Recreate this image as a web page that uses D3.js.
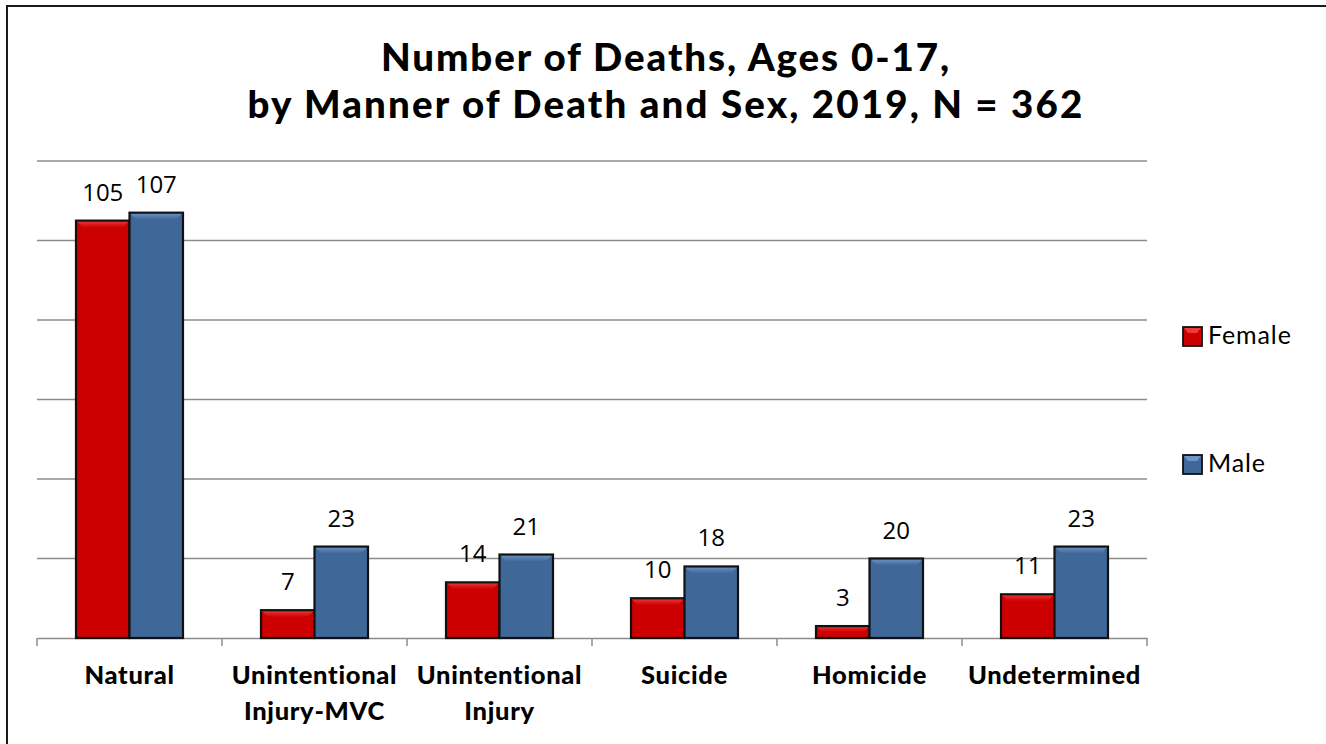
<!DOCTYPE html>
<html><head><meta charset="utf-8">
<script src="https://cdn.jsdelivr.net/npm/d3@7"></script>
<style>body{margin:0;background:#fff;overflow:hidden;} svg{display:block;}</style>
</head><body>
<svg id="c" width="1326" height="744"></svg>
<script>
const categories = ["Natural", "Unintentional\nInjury-MVC", "Unintentional\nInjury", "Suicide", "Homicide", "Undetermined"];
const seriesNames = ["Female", "Male"];
const female = [105, 7, 14, 10, 3, 11];
const male = [107, 23, 21, 18, 20, 23];
const yTicks = [0, 20, 40, 60, 80, 100, 120];
const titleLines = ["Number of Deaths, Ages 0-17,", "by Manner of Death and Sex, 2019, N = 362"];

const colors = {Female: "#CC0000", Male: "#3F6899"};
const lightColors = {Female: "#F03A3A", Male: "#6E95C8"};

const svg = d3.select("#c");
const W = 1326, H = 744;
const plot = {left: 37, right: 1147, top: 161, bottom: 638};
const FONT = "Lato, 'Open Sans', sans-serif";

svg.append("rect").attr("x", 7).attr("y", 6).attr("width", W + 20).attr("height", H + 20)
  .attr("fill", "#fff").attr("stroke", "#1a1a1a").attr("stroke-width", 2);

// fit a text's width by letter spacing
function fitWidth(sel, target) {
  sel.each(function () {
    const n = this.textContent.length;
    const w = this.getComputedTextLength();
    if (n > 1) d3.select(this).attr("letter-spacing", ((target - w) / (n - 1)).toFixed(2));
  });
}

const titleWidths = [568, 835];
titleLines.forEach((t, i) => {
  const el = svg.append("text").attr("text-anchor", "middle").attr("x", 666).attr("y", 71 + i * 47)
    .attr("font-family", FONT).attr("font-weight", 900).attr("font-size", 38.5).attr("fill", "#000").text(t);
  fitWidth(el, titleWidths[i]);
});

const x0 = d3.scaleBand().domain(categories).range([plot.left, plot.right]).paddingInner(0).paddingOuter(0);
const x1 = d3.scaleBand().domain(seriesNames).range([0, x0.bandwidth()]).paddingInner(0).paddingOuter(0.729);
const y = d3.scaleLinear().domain([0, 120]).range([plot.bottom, plot.top]);

// gridlines
svg.append("g").selectAll("line").data(yTicks.filter(d => d > 0)).join("line")
  .attr("x1", plot.left).attr("x2", plot.right)
  .attr("y1", d => y(d)).attr("y2", d => y(d))
  .attr("stroke", "#8c8c8c").attr("stroke-width", 1.5);

// x axis
const xAxis = d3.axisBottom(x0).tickSize(0).tickFormat("");
const gx = svg.append("g").attr("transform", `translate(0,${plot.bottom})`).call(xAxis);
gx.select(".domain").attr("stroke", "#8c8c8c").attr("stroke-width", 1.5);
const bounds = d3.range(categories.length + 1).map(i => plot.left + i * x0.step());
gx.selectAll("line.bt").data(bounds).join("line").attr("class", "bt")
  .attr("x1", d => d).attr("x2", d => d).attr("y1", 0).attr("y2", 8)
  .attr("stroke", "#8c8c8c").attr("stroke-width", 1.5);

// category labels
const catG = svg.append("g").attr("font-family", FONT)
  .attr("font-weight", 900).attr("font-size", 25.5).attr("fill", "#000").attr("text-anchor", "middle");
categories.forEach(c => {
  const t = catG.append("text");
  c.split("\n").forEach((line, i) => t.append("tspan").attr("x", x0(c) + x0.bandwidth() / 2).attr("y", 684 + i * 36).text(line));
});
catG.attr("letter-spacing", 0.7);

// defs gradients
const defs = svg.append("defs");
seriesNames.forEach(s => {
  const g = defs.append("linearGradient").attr("id", "g" + s).attr("x1", 0).attr("y1", 0).attr("x2", 0).attr("y2", 1);
  g.append("stop").attr("offset", 0).attr("stop-color", lightColors[s]);
  g.append("stop").attr("offset", 1).attr("stop-color", colors[s]);
});

const data = [];
categories.forEach((c, i) => {
  data.push({cat: c, s: "Female", v: female[i]});
  data.push({cat: c, s: "Male", v: male[i]});
});

const bars = svg.append("g");
data.forEach(d => {
  const bx = x0(d.cat) + x1(d.s), bw = x1.bandwidth();
  const by = y(d.v), bh = y(0) - y(d.v);
  bars.append("rect").attr("x", bx).attr("y", by).attr("width", bw).attr("height", bh)
    .attr("fill", colors[d.s]);
  const bev = Math.min(7, bh / 2);
  bars.append("polygon")
    .attr("points", [[bx, by], [bx + bw, by], [bx + bw - bev, by + bev], [bx + bev, by + bev]].map(p => p.join(",")).join(" "))
    .attr("fill", `url(#g${d.s})`);
  bars.append("rect").attr("x", bx).attr("y", by).attr("width", bw).attr("height", bh)
    .attr("fill", "none").attr("stroke", "#111").attr("stroke-width", 2.2);
});

// value labels
svg.append("g").attr("font-family", "'Open Sans', 'Liberation Sans', sans-serif").attr("font-size", 24)
  .attr("fill", "#000").attr("text-anchor", "middle")
  .selectAll("text").data(data).join("text")
  .attr("x", d => x0(d.cat) + x1(d.s) + x1.bandwidth() / 2)
  .attr("y", d => y(d.v) - 20)
  .text(d => d.v);

// legend
const leg = svg.append("g");
seriesNames.forEach((s, i) => {
  const ly = 327 + i * 128;
  leg.append("rect").attr("x", 1183).attr("y", ly).attr("width", 19).attr("height", 19)
    .attr("fill", colors[s]).attr("stroke", "#111").attr("stroke-width", 1.8);
  leg.append("polygon").attr("points", `${1184},${ly+1} ${1201},${ly+1} ${1197},${ly+6} ${1188},${ly+6}`).attr("fill", lightColors[s]);
  leg.append("text").attr("x", 1208).attr("y", ly + 17).attr("font-family", FONT)
    .attr("font-size", 25).attr("letter-spacing", 0.9).attr("fill", "#000").text(s);
});
</script>
</body></html>
